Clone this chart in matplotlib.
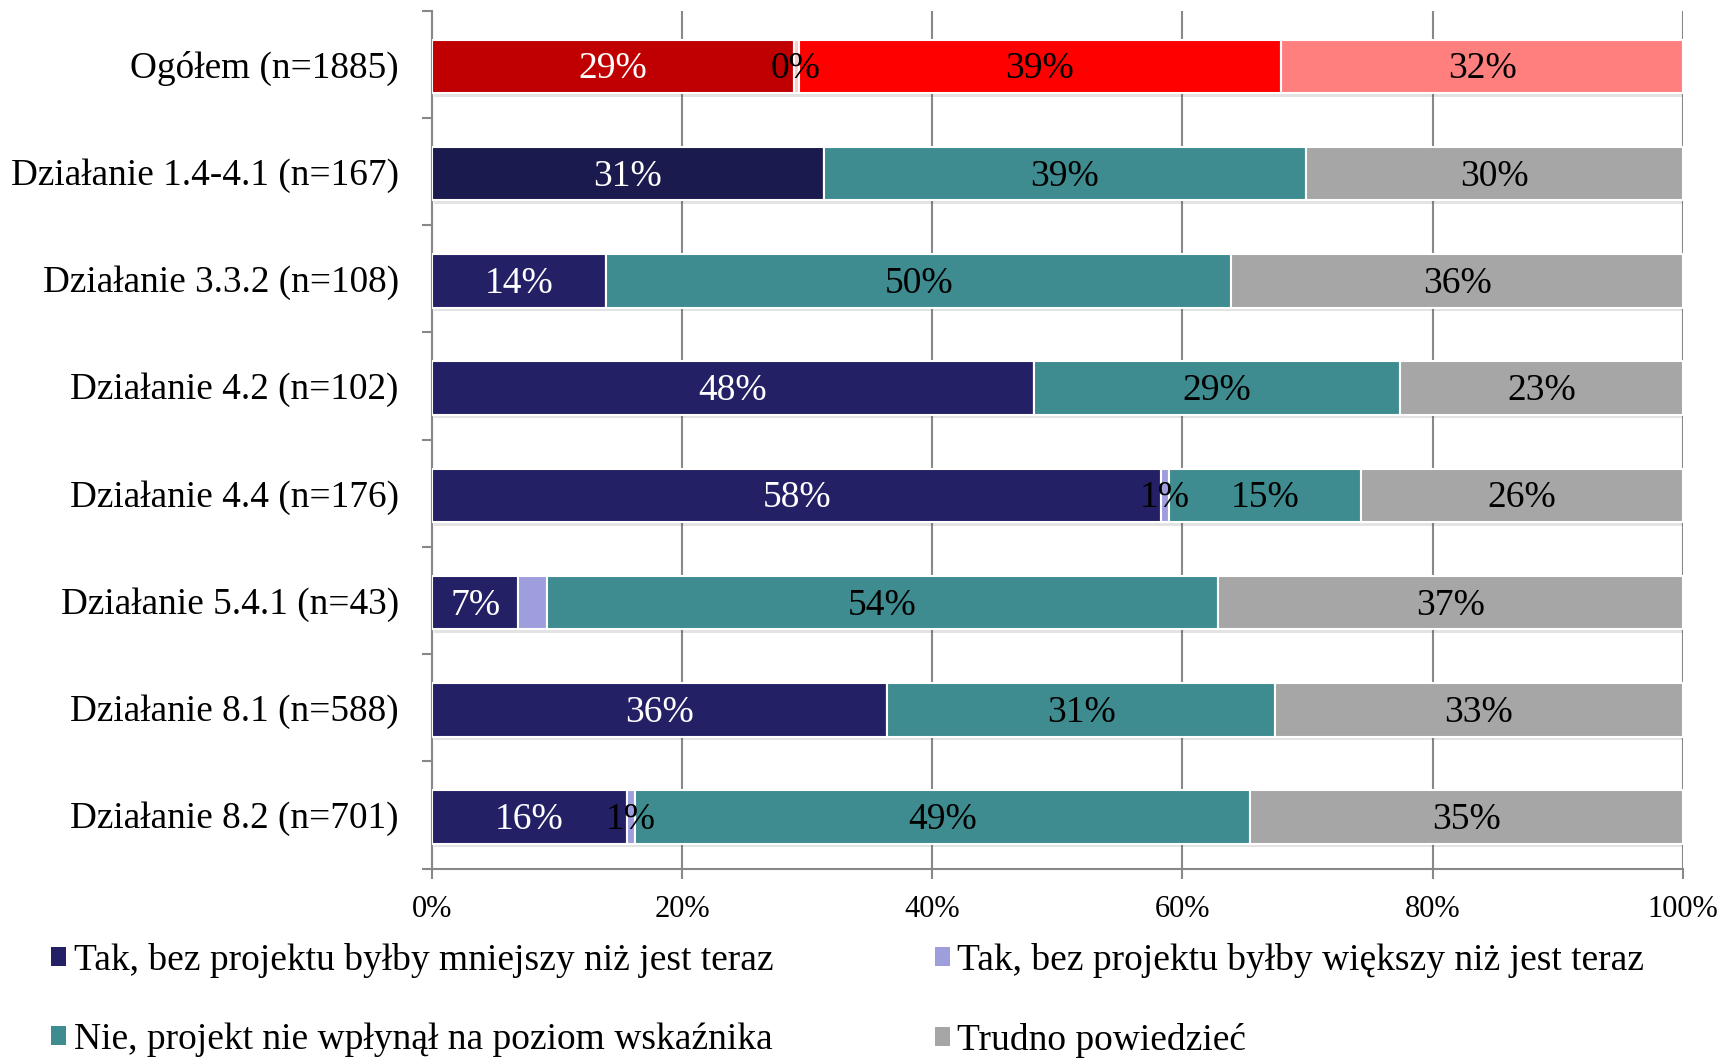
import matplotlib.pyplot as plt
import matplotlib.patheffects as pe
from matplotlib.patches import Patch
import numpy as np

plt.rcParams['font.family'] = ['Liberation Serif', 'DejaVu Serif']

categories = ["Ogółem (n=1885)", "Działanie 1.4-4.1 (n=167)", "Działanie 3.3.2 (n=108)",
              "Działanie 4.2 (n=102)", "Działanie 4.4 (n=176)", "Działanie 5.4.1 (n=43)",
              "Działanie 8.1 (n=588)", "Działanie 8.2 (n=701)"]
series_names = ["Tak, bez projektu byłby mniejszy niż jest teraz",
                "Tak, bez projektu byłby większy niż jest teraz",
                "Nie, projekt nie wpłynął na poziom wskaźnika",
                "Trudno powiedzieć"]
mniejszy = [28.9, 31.3, 13.9, 48.1, 58.3, 6.9, 36.4, 15.6]
wiekszy = [0.4, 0.0, 0.0, 0.0, 0.6, 2.3, 0.0, 0.6]
nie_wplynal = [38.6, 38.6, 50.0, 29.3, 15.4, 53.6, 31.0, 49.2]
trudno = [32.1, 30.1, 36.1, 22.6, 25.7, 37.2, 32.6, 34.6]
# label of the small segment in "Działanie 5.4.1" is not shown in the original
hidden = {(1, 5)}

colors = ["#232066", "#9E9EDD", "#3E8C90", "#A6A6A6"]
red_row = ["#C00000", "#FFC8C8", "#FF0000", "#FF7F7F"]
txt_colors = ["white", "black", "black", "black"]

data = [mniejszy, wiekszy, nie_wplynal, trudno]
y = np.arange(len(categories))

fig = plt.figure(figsize=(17.24, 10.58), dpi=100)
ax = fig.add_axes([0.2506, 0.179, 0.7255, 0.811])

left = np.zeros(len(categories))
shadow = [pe.SimplePatchShadow(offset=(1.5, -2.5), alpha=0.15, shadow_rgbFace="#444444"), pe.Normal()]
for i, vals in enumerate(data):
    cols = [colors[i]] * len(categories)
    cols[0] = red_row[i]
    if i == 0:
        cols[1] = "#1B1A4E"
    bars = ax.barh(y + 0.02, vals, left=left, height=0.5, color=cols, edgecolor="white",
                   linewidth=1.5, zorder=3)
    for b in bars:
        b.set_path_effects(shadow)
    labels = []
    for j, v in enumerate(vals):
        if v == 0 or (i, j) in hidden:
            labels.append("")
        else:
            labels.append(f"{v:.0f}%")
    texts = ax.bar_label(bars, labels=labels, label_type="center", fontsize=27,
                         color=txt_colors[i], zorder=5)
    for t in texts:
        t.xyann = (0, -2)
    left += np.array(vals)

ax.set_xlim(0, 100)
ax.set_ylim(len(categories) - 0.5, -0.5)
ax.set_xticks(np.arange(0, 101, 20))
ax.set_xticklabels([f"{t}%" for t in range(0, 101, 20)], fontsize=22)
ax.set_yticks(y)
ax.set_yticklabels(categories, fontsize=26.8)
ax.set_yticks(np.arange(-0.5, len(categories), 1), minor=True)
ax.tick_params(axis="y", which="major", length=0, pad=24)
ax.tick_params(axis="y", which="minor", length=7, width=1.5, color="#888888", direction="out")
ax.tick_params(axis="x", length=7, width=1.5, color="#888888", direction="out", pad=12)
ax.grid(axis="x", color="#888888", linewidth=1.5, zorder=0)
for s in ["top", "right"]:
    ax.spines[s].set_visible(False)
for s in ["left", "bottom"]:
    ax.spines[s].set_color("#888888")
    ax.spines[s].set_linewidth(1.5)

# legend filled row by row, as in the original
handles = [Patch(facecolor=c) for c in colors]
order = [0, 2, 1, 3]
fig.legend([handles[k] for k in order], [series_names[k] for k in order],
           loc="upper left", bbox_to_anchor=(0.021, 0.123), ncol=2,
           frameon=False, fontsize=27, handlelength=0.4, handleheight=0.4,
           handletextpad=0.2, columnspacing=4.3, labelspacing=1.2, borderaxespad=0)

fig.savefig("out.png", dpi=100)
